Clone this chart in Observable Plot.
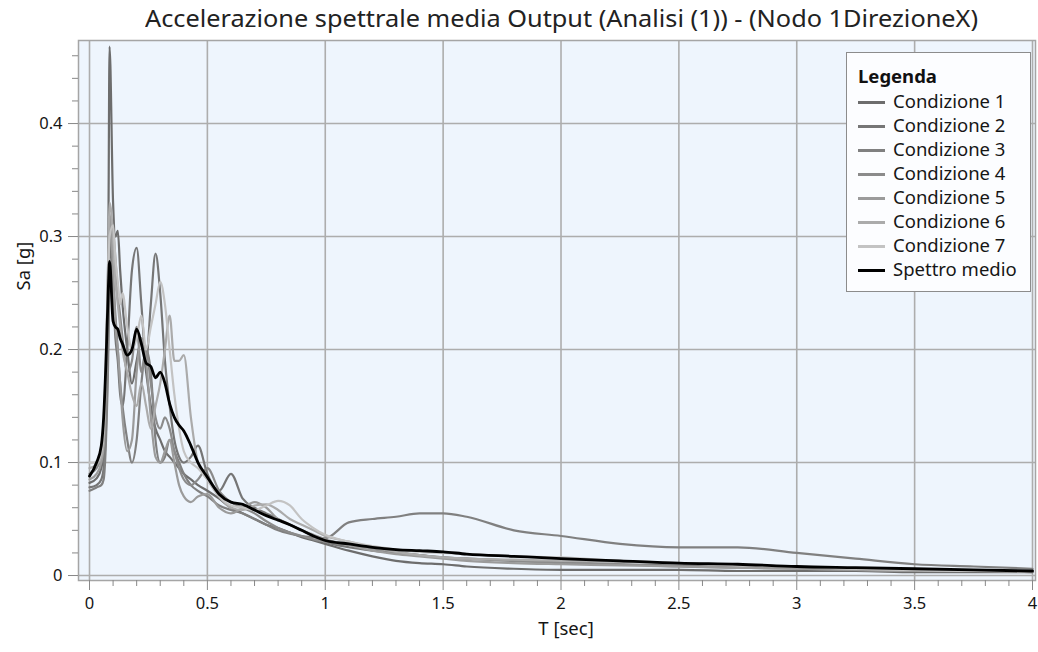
<!DOCTYPE html>
<html>
<head>
<meta charset="utf-8">
<script src="https://cdn.jsdelivr.net/npm/d3@7"></script>
<script src="https://cdn.jsdelivr.net/npm/@observablehq/plot@0.6"></script>
<style>
  html, body { margin: 0; padding: 0; background: #ffffff; }
  #wrap { position: relative; width: 1038px; height: 652px; overflow: hidden; font-family: "Noto Sans", sans-serif; }
  #title { position: absolute; top: 0; left: 0; width: 1038px; height: 38px; }
  #title span { position: absolute; top: 2px; left: 0; font-size: 23.5px; line-height: 32px; color: #222; white-space: nowrap; transform-origin: 0 50%; }
  #chart { position: absolute; top: 38px; left: 0; }
  #legend { position: absolute; left: 846px; top: 52px; width: 183px; height: 238px; border: 1.5px solid #8c8c8c; background: #fcfdff; }
  #legend .hd { position: absolute; left: 11px; top: 10px; font-weight: bold; font-size: 18.5px; color: #111; }
  #legend .row { position: absolute; left: 11px; height: 22px; line-height: 22px; font-size: 18.5px; color: #161616; white-space: nowrap; }
  #legend .sw { display: inline-block; width: 27px; height: 3px; vertical-align: middle; margin-right: 8px; position: relative; top: -1px; }
</style>
</head>
<body>
<div id="wrap">
  <div id="title"><span id="titleText">Accelerazione spettrale media Output (Analisi (1)) - (Nodo 1DirezioneX)</span></div>
  <div id="chart"></div>
  <div id="legend"></div>
</div>
<script>
// Period (s)
const T = [0, 0.03, 0.05, 0.06, 0.07, 0.08, 0.085, 0.10, 0.11, 0.12, 0.13, 0.14, 0.16, 0.18, 0.20, 0.22, 0.24, 0.26, 0.28, 0.30,
  0.32, 0.34, 0.36, 0.38, 0.40, 0.43, 0.46, 0.50, 0.55, 0.60, 0.65, 0.70, 0.75, 0.80, 0.85, 0.90, 0.95, 1.0,
  1.1, 1.2, 1.3, 1.4, 1.5, 1.6, 1.8, 2.0, 2.25, 2.5, 2.75, 3.0, 3.25, 3.5, 3.75, 4.0];

const cond1 = [0.082, 0.086, 0.095, 0.11, 0.16, 0.30, 0.468, 0.33, 0.30, 0.305, 0.27, 0.24, 0.20, 0.17, 0.19, 0.21, 0.18, 0.15, 0.13, 0.12,
  0.11, 0.105, 0.10, 0.095, 0.09, 0.085, 0.08, 0.075, 0.068, 0.06, 0.055, 0.05, 0.045, 0.042, 0.038, 0.034, 0.031, 0.028,
  0.022, 0.017, 0.013, 0.011, 0.010, 0.008, 0.006, 0.005, 0.005, 0.005, 0.004, 0.004, 0.004, 0.003, 0.003, 0.003];
const cond2 = [0.078, 0.08, 0.085, 0.095, 0.13, 0.22, 0.30, 0.25, 0.21, 0.19, 0.16, 0.15, 0.20, 0.27, 0.29, 0.24, 0.19, 0.24, 0.285, 0.25,
  0.19, 0.15, 0.12, 0.105, 0.10, 0.105, 0.115, 0.09, 0.075, 0.09, 0.068, 0.06, 0.055, 0.05, 0.045, 0.04, 0.035, 0.03,
  0.025, 0.022, 0.02, 0.018, 0.016, 0.015, 0.013, 0.012, 0.01, 0.009, 0.008, 0.007, 0.006, 0.005, 0.004, 0.004];
const cond3 = [0.075, 0.078, 0.08, 0.085, 0.12, 0.20, 0.27, 0.26, 0.23, 0.20, 0.17, 0.15, 0.12, 0.10, 0.12, 0.17, 0.20, 0.18, 0.12, 0.10,
  0.105, 0.12, 0.11, 0.10, 0.09, 0.08, 0.075, 0.07, 0.062, 0.058, 0.055, 0.05, 0.045, 0.04, 0.037, 0.035, 0.034, 0.033,
  0.047, 0.05, 0.052, 0.055, 0.055, 0.052, 0.04, 0.035, 0.028, 0.025, 0.025, 0.02, 0.015, 0.01, 0.008, 0.006];
const cond4 = [0.09, 0.095, 0.105, 0.12, 0.17, 0.26, 0.30, 0.305, 0.28, 0.25, 0.23, 0.21, 0.18, 0.19, 0.22, 0.18, 0.20, 0.17, 0.14, 0.13,
  0.14, 0.13, 0.11, 0.095, 0.085, 0.08, 0.085, 0.095, 0.075, 0.065, 0.06, 0.055, 0.048, 0.042, 0.038, 0.035, 0.032, 0.03,
  0.027, 0.024, 0.021, 0.018, 0.016, 0.015, 0.013, 0.011, 0.01, 0.008, 0.007, 0.006, 0.005, 0.004, 0.004, 0.003];
const cond5 = [0.085, 0.09, 0.10, 0.115, 0.18, 0.28, 0.32, 0.27, 0.22, 0.20, 0.17, 0.14, 0.11, 0.12, 0.18, 0.21, 0.19, 0.14, 0.105, 0.10,
  0.11, 0.12, 0.10, 0.08, 0.07, 0.065, 0.07, 0.072, 0.06, 0.055, 0.06, 0.065, 0.06, 0.05, 0.045, 0.04, 0.036, 0.032,
  0.027, 0.022, 0.019, 0.017, 0.015, 0.013, 0.011, 0.01, 0.009, 0.008, 0.007, 0.006, 0.005, 0.004, 0.004, 0.003];
const cond6 = [0.095, 0.098, 0.105, 0.12, 0.19, 0.29, 0.33, 0.30, 0.26, 0.24, 0.22, 0.20, 0.18, 0.16, 0.15, 0.17, 0.15, 0.13, 0.15, 0.17,
  0.20, 0.23, 0.19, 0.19, 0.195, 0.14, 0.10, 0.085, 0.07, 0.06, 0.058, 0.062, 0.063, 0.058, 0.05, 0.045, 0.04, 0.035,
  0.03, 0.025, 0.021, 0.018, 0.016, 0.015, 0.014, 0.013, 0.012, 0.011, 0.009, 0.008, 0.006, 0.005, 0.004, 0.004];
const cond7 = [0.10, 0.10, 0.11, 0.13, 0.20, 0.27, 0.30, 0.31, 0.28, 0.26, 0.24, 0.25, 0.22, 0.20, 0.21, 0.23, 0.20, 0.22, 0.24, 0.26,
  0.24, 0.20, 0.16, 0.13, 0.11, 0.10, 0.095, 0.085, 0.07, 0.062, 0.06, 0.058, 0.062, 0.066, 0.062, 0.05, 0.042, 0.036,
  0.03, 0.026, 0.023, 0.021, 0.02, 0.019, 0.017, 0.016, 0.013, 0.011, 0.009, 0.008, 0.006, 0.005, 0.004, 0.004];
const spettroMedio = [0.088, 0.10, 0.115, 0.14, 0.19, 0.255, 0.278, 0.225, 0.22, 0.218, 0.21, 0.205, 0.195, 0.20, 0.218, 0.205, 0.188, 0.185, 0.175, 0.18,
  0.17, 0.152, 0.14, 0.133, 0.128, 0.115, 0.10, 0.087, 0.072, 0.065, 0.063, 0.058, 0.053, 0.049, 0.045, 0.04, 0.035, 0.031,
  0.028, 0.025, 0.023, 0.022, 0.021, 0.019, 0.017, 0.015, 0.013, 0.011, 0.010, 0.008, 0.007, 0.006, 0.005, 0.004];

const seriesNames = ["Condizione 1", "Condizione 2", "Condizione 3", "Condizione 4", "Condizione 5", "Condizione 6", "Condizione 7", "Spettro medio"];
const seriesColors = ["#6d6d6d", "#767676", "#808080", "#8b8b8b", "#9b9b9b", "#ababab", "#c3c3c3", "#000000"];

const xMajor = [0, 0.5, 1, 1.5, 2, 2.5, 3, 3.5, 4];
const xMinor = [0.1, 0.2, 0.3, 0.4, 0.6, 0.7, 0.8, 0.9, 1.1, 1.2, 1.3, 1.4, 1.6, 1.7, 1.8, 1.9, 2.1, 2.2, 2.3, 2.4,
  2.6, 2.7, 2.8, 2.9, 3.1, 3.2, 3.3, 3.4, 3.6, 3.7, 3.8, 3.9];
const yMajor = [0, 0.1, 0.2, 0.3, 0.4];
const yMinor = [0.02, 0.04, 0.06, 0.08, 0.12, 0.14, 0.16, 0.18, 0.22, 0.24, 0.26, 0.28, 0.32, 0.34, 0.36, 0.38, 0.42, 0.44, 0.46];

const condArrays = [cond1, cond2, cond3, cond4, cond5, cond6, cond7];
const condData = condArrays.flatMap((arr, i) => T.map((t, j) => ({T: t, Sa: arr[j], serie: seriesNames[i]})));
const meanData = T.map((t, j) => ({T: t, Sa: spettroMedio[j], serie: seriesNames[7]}));

const axisStyle = {fontSize: 16.5, fill: "#151515"};
const chart = Plot.plot({
  width: 1038,
  height: 614,
  marginLeft: 78,
  marginRight: 3,
  marginTop: 2,
  marginBottom: 72,
  style: {fontFamily: "'Noto Sans', sans-serif", background: "transparent", overflow: "visible"},
  x: {domain: [-0.0467, 4.0127]},
  y: {domain: [-0.0044, 0.4735]},
  color: {domain: seriesNames, range: seriesColors},
  marks: [
    Plot.frame({fill: "#eef5fd", stroke: null}),
    Plot.gridX(xMajor, {stroke: "#adadad", strokeOpacity: 1, strokeWidth: 1.6}),
    Plot.gridY(yMajor, {stroke: "#adadad", strokeOpacity: 1, strokeWidth: 1.6}),
    Plot.line(condData, {x: "T", y: "Sa", z: "serie", stroke: "serie", strokeWidth: 2.2, curve: "monotone-x"}),
    Plot.line(meanData, {x: "T", y: "Sa", stroke: "serie", strokeWidth: 2.8, curve: "monotone-x"}),
    Plot.frame({stroke: "#a5a5a5", strokeWidth: 1.5}),
    Plot.axisX(xMajor, {anchor: "bottom", tickSize: 10, tickPadding: 7, tickFormat: d => String(d), label: null, stroke: "#888", ...axisStyle}),
    Plot.axisX(xMinor, {anchor: "bottom", tickSize: 6, tickFormat: () => "", label: null, stroke: "#888"}),
    Plot.axisY(yMajor, {anchor: "left", tickSize: 10, tickPadding: 6, tickFormat: d => String(d), label: null, stroke: "#888", ...axisStyle}),
    Plot.axisY(yMinor, {anchor: "left", tickSize: 6, tickFormat: () => "", label: null, stroke: "#888"}),
    Plot.text(["T [sec]"], {frameAnchor: "bottom", dx: 9, dy: 54, fontSize: 18.5, fill: "#151515"}),
    Plot.text(["Sa [g]"], {frameAnchor: "left", dx: -54, dy: -20, rotate: -90, fontSize: 18.5, fill: "#151515"})
  ]
});
document.getElementById("chart").appendChild(chart);

// fit the title to the reference span (x 145 .. 978)
const tt = document.getElementById("titleText");
const w = tt.getBoundingClientRect().width;
const targetW = 833;
tt.style.left = "145px";
tt.style.transform = `scaleX(${targetW / w})`;

const legend = document.getElementById("legend");
const hd = document.createElement("div");
hd.className = "hd";
hd.textContent = "Legenda";
legend.appendChild(hd);
seriesNames.forEach((name, i) => {
  const row = document.createElement("div");
  row.className = "row";
  row.style.top = (37 + i * 24) + "px";
  const sw = document.createElement("span");
  sw.className = "sw";
  sw.style.background = seriesColors[i];
  row.appendChild(sw);
  row.appendChild(document.createTextNode(name));
  legend.appendChild(row);
});
</script>
</body>
</html>
